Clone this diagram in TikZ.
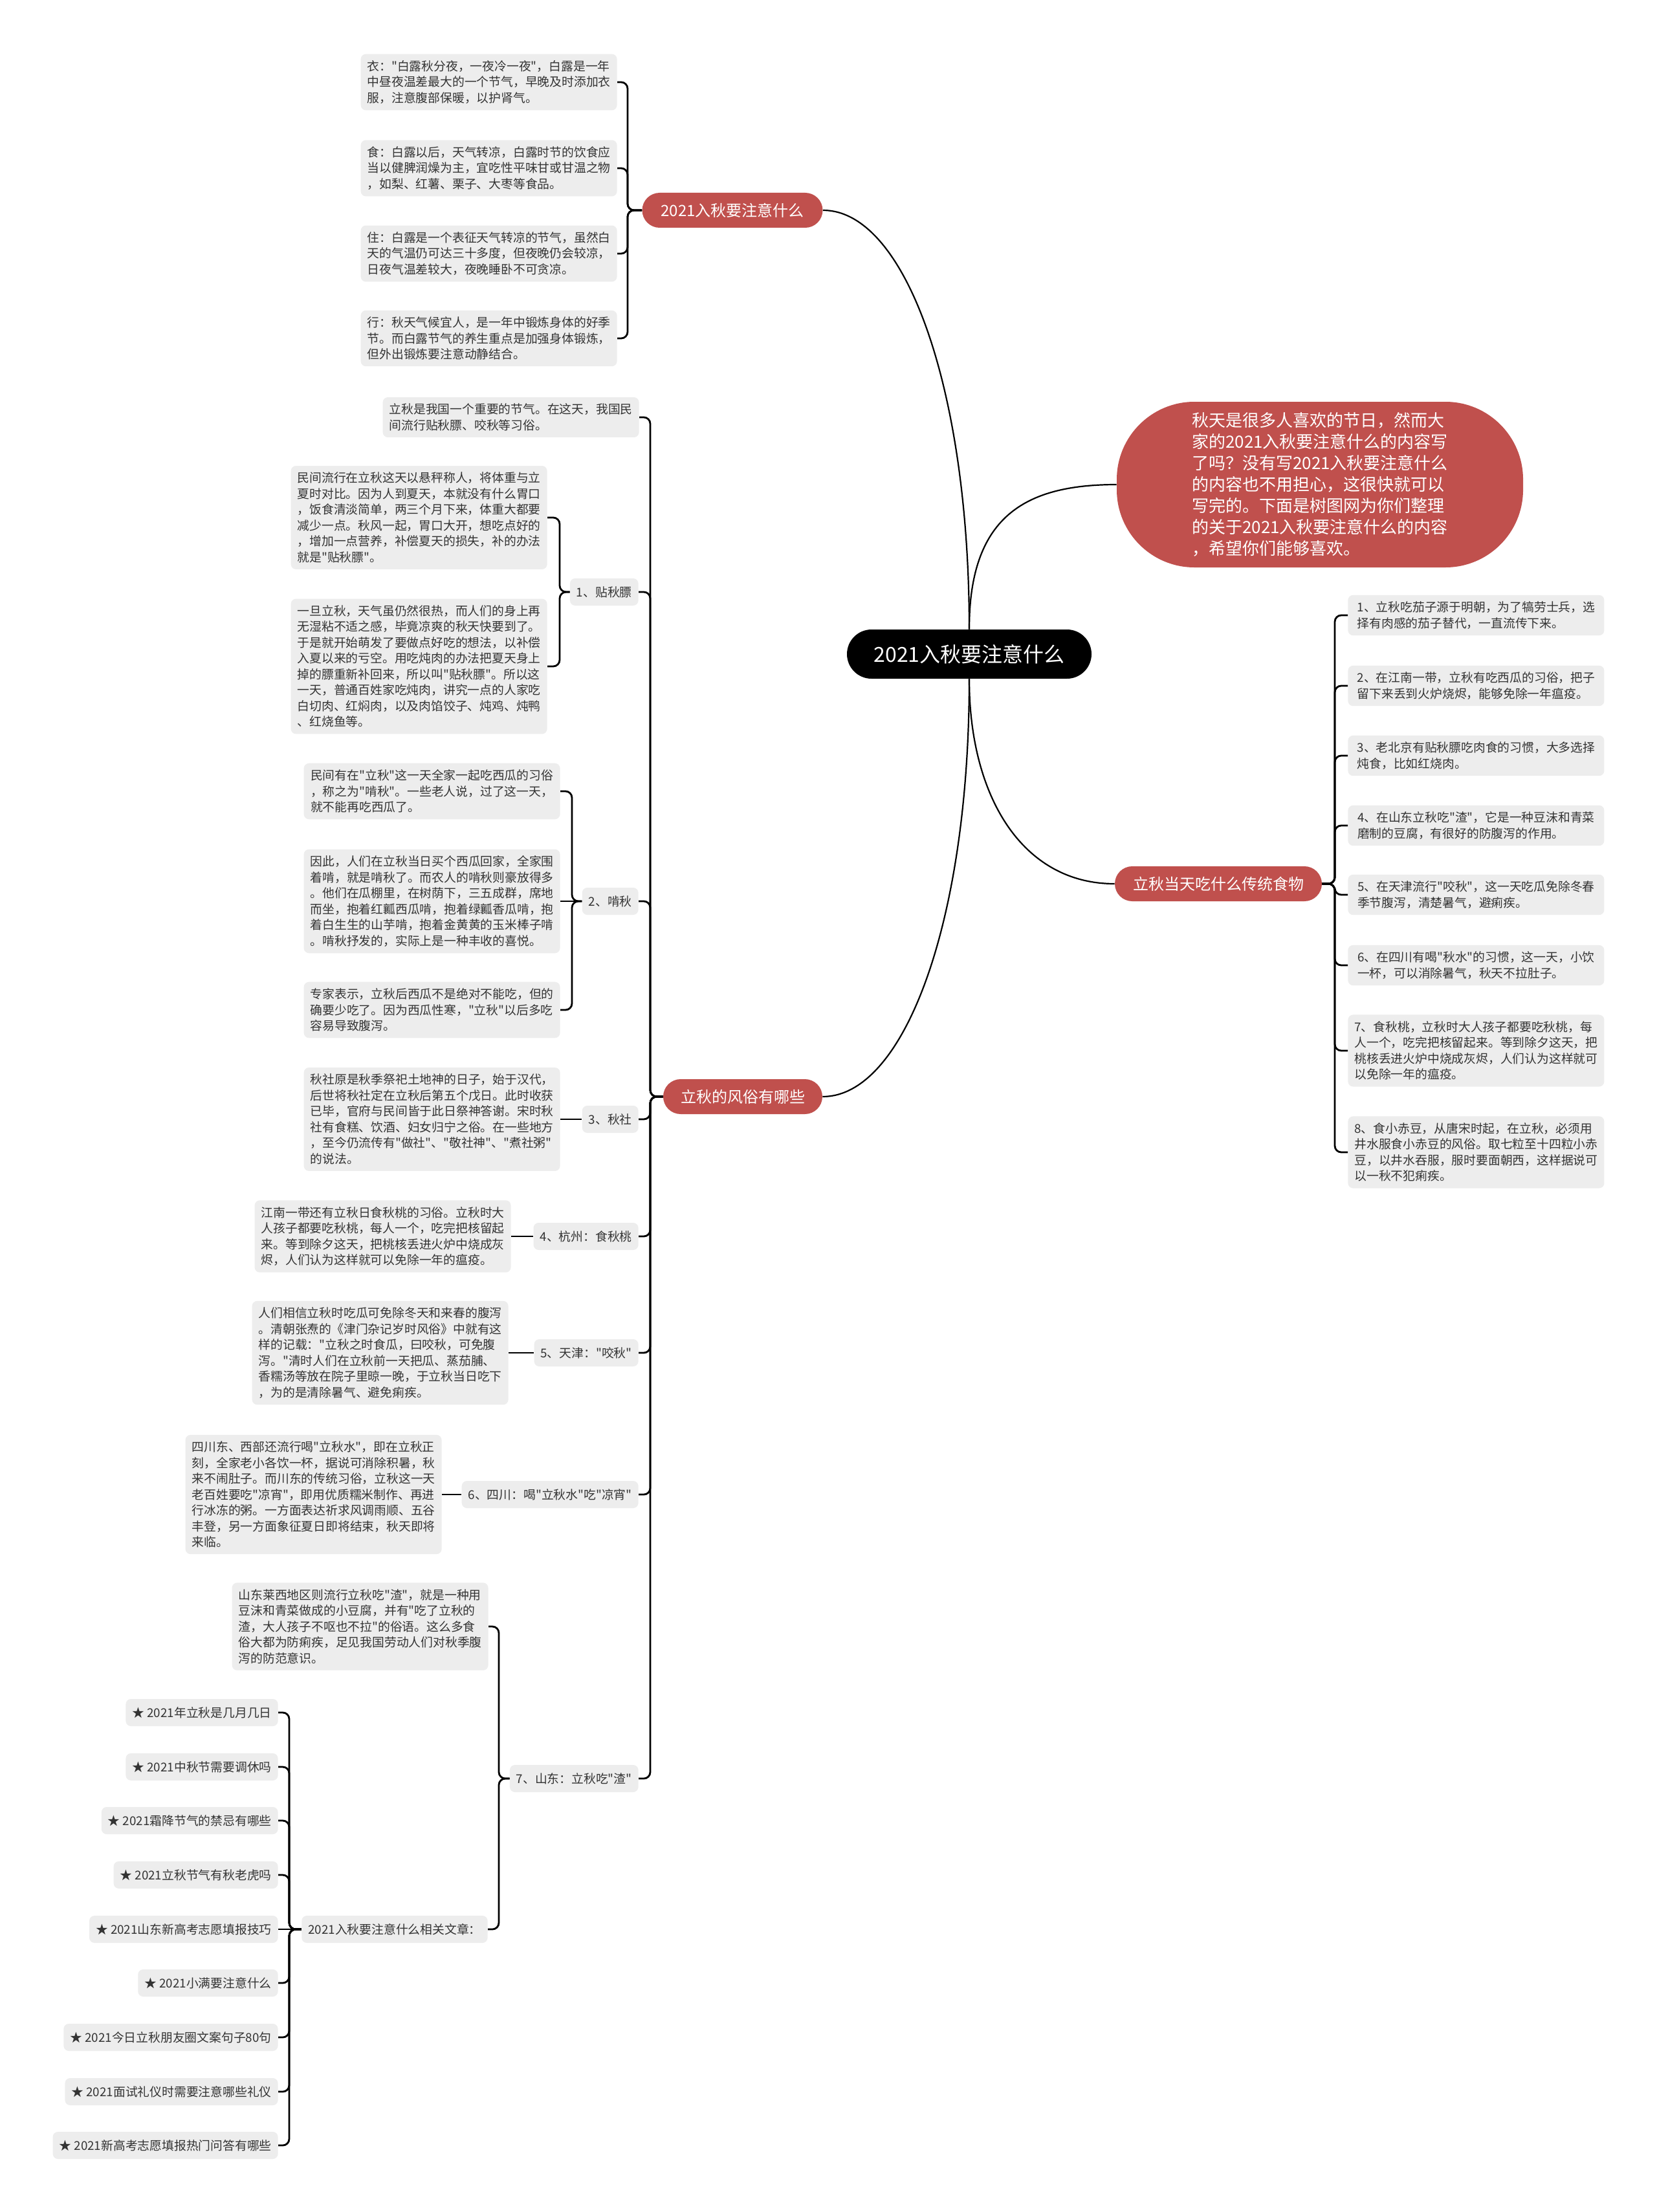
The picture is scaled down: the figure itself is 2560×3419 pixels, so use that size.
\documentclass[tikz,border=0pt]{standalone}
\usepackage{fontspec}
\setmainfont{Noto Sans CJK SC}[Ligatures=TeXOff]
\usetikzlibrary{backgrounds}
\definecolor{brred}{RGB}{192,80,77}
\definecolor{leafbg}{RGB}{237,237,237}
\definecolor{leaftext}{RGB}{51,51,51}
\begin{document}
\begin{tikzpicture}[x=0.5pt,y=-0.5pt,
 leaf/.style={fill=leafbg, text=leaftext, rounded corners=4pt, align=left, minimum width=198pt, inner xsep=5pt, inner ysep=5pt, font=\fontsize{9.4pt}{12.25pt}\selectfont},
 mid/.style={fill=leafbg, text=leaftext, rounded corners=4pt, inner xsep=5pt, minimum height=21pt, font=\fontsize{9.4pt}{12.25pt}\selectfont},
 branch/.style={fill=brred, text=white, rounded corners=13.5pt, minimum height=27pt, font=\fontsize{12pt}{14pt}\selectfont},
 rootnode/.style={fill=black, text=white, rounded corners=19pt, minimum width=189pt, minimum height=38pt, font=\fontsize{16pt}{19pt}\selectfont},
 conn/.style={draw=black, line width=1.4pt, rounded corners=5pt},
 mainc/.style={draw=black, line width=1.1pt},
]
\useasboundingbox (0,0) rectangle (2560,3419);
\begin{pgfonlayer}{background}
\fill[white] (0,0) rectangle (2560,3419);
\end{pgfonlayer}

% root and branches
\node[rootnode] (root) at (1498,1011) {2021入秋要注意什么};
\node[branch, minimum width=139.5pt] (b1) at (1132,325) {2021入秋要注意什么};
\node[branch, minimum width=123pt] (b2) at (1148,1695) {立秋的风俗有哪些};
\node[branch, minimum width=160pt] (b3) at (1883,1366) {立秋当天吃什么传统食物};
\node[fill=brred, text=white, rounded corners=60pt, minimum width=314pt, minimum height=128pt, align=left, font=\fontsize{13pt}{16.5pt}\selectfont] (intro) at (2040,749) {秋天是很多人喜欢的节日，然而大\\家的2021入秋要注意什么的内容写\\了吗？没有写2021入秋要注意什么\\的内容也不用担心，这很快就可以\\写完的。下面是树图网为你们整理\\的关于2021入秋要注意什么的内容\\，希望你们能够喜欢。};

\draw[mainc] (root.north) .. controls +(0,-373) and +(127,0) .. (b1.east);
\draw[mainc] (root.south) .. controls +(0,373) and +(127,0) .. (b2.east);
\draw[mainc] (root.north) .. controls +(0,-173) and +(-143,0) .. (intro.west);
\draw[mainc] (root.south) .. controls +(0,181) and +(-143,0) .. (b3.west);

% branch 1 leaves
\node[leaf,anchor=east] (yi) at (954,127) {衣："白露秋分夜，一夜冷一夜"，白露是一年\\中昼夜温差最大的一个节气，早晚及时添加衣\\服，注意腹部保暖，以护肾气。};
\node[leaf,anchor=east] (shi) at (954,260) {食：白露以后，天气转凉，白露时节的饮食应\\当以健脾润燥为主，宜吃性平味甘或甘温之物\\，如梨、红薯、栗子、大枣等食品。};
\node[leaf,anchor=east] (zhu) at (954,392) {住：白露是一个表征天气转凉的节气，虽然白\\天的气温仍可达三十多度，但夜晚仍会较凉，\\日夜气温差较大，夜晚睡卧不可贪凉。};
\node[leaf,anchor=east] (xing) at (954,523) {行：秋天气候宜人，是一年中锻炼身体的好季\\节。而白露节气的养生重点是加强身体锻炼，\\但外出锻炼要注意动静结合。};
\coordinate (tb1) at (970,325);
\foreach \n in {yi,shi,zhu,xing}
  \draw[conn] (\n.east) -- (\n.east -| tb1) -- (b1.west -| tb1) -- (b1.west);

% branch 2
\node[leaf,anchor=east] (c0) at (988,645) {立秋是我国一个重要的节气。在这天，我国民\\间流行贴秋膘、咬秋等习俗。};
\node[mid,anchor=east] (k1) at (987,915) {1、贴秋膘};
\node[leaf,anchor=east] (c1a) at (846,800) {民间流行在立秋这天以悬秤称人，将体重与立\\夏时对比。因为人到夏天，本就没有什么胃口\\，饭食清淡简单，两三个月下来，体重大都要\\减少一点。秋风一起，胃口大开，想吃点好的\\，增加一点营养，补偿夏天的损失，补的办法\\就是"贴秋膘"。};
\node[leaf,anchor=east] (c1b) at (846,1030) {一旦立秋，天气虽仍然很热，而人们的身上再\\无湿粘不适之感，毕竟凉爽的秋天快要到了。\\于是就开始萌发了要做点好吃的想法，以补偿\\入夏以来的亏空。用吃炖肉的办法把夏天身上\\掉的膘重新补回来，所以叫"贴秋膘"。所以这\\一天，普通百姓家吃炖肉，讲究一点的人家吃\\白切肉、红焖肉，以及肉馅饺子、炖鸡、炖鸭\\、红烧鱼等。};
\node[mid,anchor=east] (k2) at (987,1393) {2、啃秋};
\node[leaf,anchor=east] (c2a) at (866,1223) {民间有在"立秋"这一天全家一起吃西瓜的习俗\\，称之为"啃秋"。一些老人说，过了这一天，\\就不能再吃西瓜了。};
\node[leaf,anchor=east] (c2b) at (866,1393) {因此，人们在立秋当日买个西瓜回家，全家围\\着啃，就是啃秋了。而农人的啃秋则豪放得多\\。他们在瓜棚里，在树荫下，三五成群，席地\\而坐，抱着红瓤西瓜啃，抱着绿瓤香瓜啃，抱\\着白生生的山芋啃，抱着金黄黄的玉米棒子啃\\。啃秋抒发的，实际上是一种丰收的喜悦。};
\node[leaf,anchor=east] (c2c) at (866,1561) {专家表示，立秋后西瓜不是绝对不能吃，但的\\确要少吃了。因为西瓜性寒，"立秋"以后多吃\\容易导致腹泻。};
\node[mid,anchor=east] (k3) at (987,1730) {3、秋社};
\node[leaf,anchor=east] (c3a) at (866,1730) {秋社原是秋季祭祀土地神的日子，始于汉代，\\后世将秋社定在立秋后第五个戊日。此时收获\\已毕，官府与民间皆于此日祭神答谢。宋时秋\\社有食糕、饮酒、妇女归宁之俗。在一些地方\\，至今仍流传有"做社"、"敬社神"、"煮社粥"\\的说法。};
\node[mid,anchor=east] (k4) at (987,1911) {4、杭州：食秋桃};
\node[leaf,anchor=east] (c4a) at (790,1911) {江南一带还有立秋日食秋桃的习俗。立秋时大\\人孩子都要吃秋桃，每人一个，吃完把核留起\\来。等到除夕这天，把桃核丢进火炉中烧成灰\\烬，人们认为这样就可以免除一年的瘟疫。};
\node[mid,anchor=east] (k5) at (987,2091) {5、天津："咬秋"};
\node[leaf,anchor=east] (c5a) at (786,2091) {人们相信立秋时吃瓜可免除冬天和来春的腹泻\\。清朝张焘的《津门杂记岁时风俗》中就有这\\样的记载："立秋之时食瓜，曰咬秋，可免腹\\泻。"清时人们在立秋前一天把瓜、蒸茄脯、\\香糯汤等放在院子里晾一晚，于立秋当日吃下\\，为的是清除暑气、避免痢疾。};
\node[mid,anchor=east] (k6) at (987,2310) {6、四川：喝"立秋水"吃"凉宵"};
\node[leaf,anchor=east] (c6a) at (683,2310) {四川东、西部还流行喝"立秋水"，即在立秋正\\刻，全家老小各饮一杯，据说可消除积暑，秋\\来不闹肚子。而川东的传统习俗，立秋这一天\\老百姓要吃"凉宵"，即用优质糯米制作、再进\\行冰冻的粥。一方面表达祈求风调雨顺、五谷\\丰登，另一方面象征夏日即将结束，秋天即将\\来临。};
\node[mid,anchor=east] (k7) at (987,2749) {7、山东：立秋吃"渣"};
\node[leaf,anchor=east] (c7a) at (755,2514) {山东莱西地区则流行立秋吃"渣"，就是一种用\\豆沫和青菜做成的小豆腐，并有"吃了立秋的\\渣，大人孩子不呕也不拉"的俗语。这么多食\\俗大都为防痢疾，足见我国劳动人们对秋季腹\\泻的防范意识。};
\node[mid,anchor=east] (k8) at (754,2982) {2021入秋要注意什么相关文章：};

\node[mid,anchor=east] (a1) at (430,2647) {★ 2021年立秋是几月几日};
\node[mid,anchor=east] (a2) at (430,2731) {★ 2021中秋节需要调休吗};
\node[mid,anchor=east] (a3) at (430,2814) {★ 2021霜降节气的禁忌有哪些};
\node[mid,anchor=east] (a4) at (430,2898) {★ 2021立秋节气有秋老虎吗};
\node[mid,anchor=east] (a5) at (430,2982) {★ 2021山东新高考志愿填报技巧};
\node[mid,anchor=east] (a6) at (430,3065) {★ 2021小满要注意什么};
\node[mid,anchor=east] (a7) at (430,3149) {★ 2021今日立秋朋友圈文案句子80句};
\node[mid,anchor=east] (a8) at (430,3233) {★ 2021面试礼仪时需要注意哪些礼仪};
\node[mid,anchor=east] (a9) at (430,3316) {★ 2021新高考志愿填报热门问答有哪些};

% branch 2 connectors
\coordinate (tb2) at (1005,1695);
\foreach \n in {c0,k1,k2,k3,k4,k5,k6,k7}
  \draw[conn] (\n.east) -- (\n.east -| tb2) -- (b2.west -| tb2) -- (b2.west);
\coordinate (tk1) at (865,915);
\foreach \n in {c1a,c1b}
  \draw[conn] (\n.east) -- (\n.east -| tk1) -- (k1.west -| tk1) -- (k1.west);
\coordinate (tk2) at (884,1393);
\foreach \n in {c2a,c2c}
  \draw[conn] (\n.east) -- (\n.east -| tk2) -- (k2.west -| tk2) -- (k2.west);
\draw[conn] (c2b.east) -- (k2.west);
\draw[conn] (c3a.east) -- (k3.west);
\draw[conn] (c4a.east) -- (k4.west);
\draw[conn] (c5a.east) -- (k5.west);
\draw[conn] (c6a.east) -- (k6.west);
\coordinate (tk7) at (771,2749);
\foreach \n in {c7a,k8}
  \draw[conn] (\n.east) -- (\n.east -| tk7) -- (k7.west -| tk7) -- (k7.west);
\coordinate (tk8) at (447,2982);
\foreach \n in {a1,a2,a3,a4,a6,a7,a8,a9}
  \draw[conn] (\n.east) -- (\n.east -| tk8) -- (k8.west -| tk8) -- (k8.west);
\draw[conn] (a5.east) -- (k8.west);

% branch 3
\node[leaf,anchor=west] (r1) at (2083,951) {1、立秋吃茄子源于明朝，为了犒劳士兵，选\\择有肉感的茄子替代，一直流传下来。};
\node[leaf,anchor=west] (r2) at (2083,1060) {2、在江南一带，立秋有吃西瓜的习俗，把子\\留下来丢到火炉烧烬，能够免除一年瘟疫。};
\node[leaf,anchor=west] (r3) at (2083,1168) {3、老北京有贴秋膘吃肉食的习惯，大多选择\\炖食，比如红烧肉。};
\node[leaf,anchor=west] (r4) at (2083,1276) {4、在山东立秋吃"渣"，它是一种豆沫和青菜\\磨制的豆腐，有很好的防腹泻的作用。};
\node[leaf,anchor=west] (r5) at (2083,1383) {5、在天津流行"咬秋"，这一天吃瓜免除冬春\\季节腹泻，清楚暑气，避痢疾。};
\node[leaf,anchor=west] (r6) at (2083,1492) {6、在四川有喝"秋水"的习惯，这一天，小饮\\一杯，可以消除暑气，秋天不拉肚子。};
\node[leaf,anchor=west] (r7) at (2083,1624) {7、食秋桃，立秋时大人孩子都要吃秋桃，每\\人一个，吃完把核留起来。等到除夕这天，把\\桃核丢进火炉中烧成灰烬，人们认为这样就可\\以免除一年的瘟疫。};
\node[leaf,anchor=west] (r8) at (2083,1781) {8、食小赤豆，从唐宋时起，在立秋，必须用\\井水服食小赤豆的风俗。取七粒至十四粒小赤\\豆，以井水吞服，服时要面朝西，这样据说可\\以一秋不犯痢疾。};
\coordinate (tb3) at (2063,1366);
\foreach \n in {r1,r2,r3,r4,r5,r6,r7,r8}
  \draw[conn] (\n.west) -- (\n.west -| tb3) -- (b3.east -| tb3) -- (b3.east);
\end{tikzpicture}
\end{document}
